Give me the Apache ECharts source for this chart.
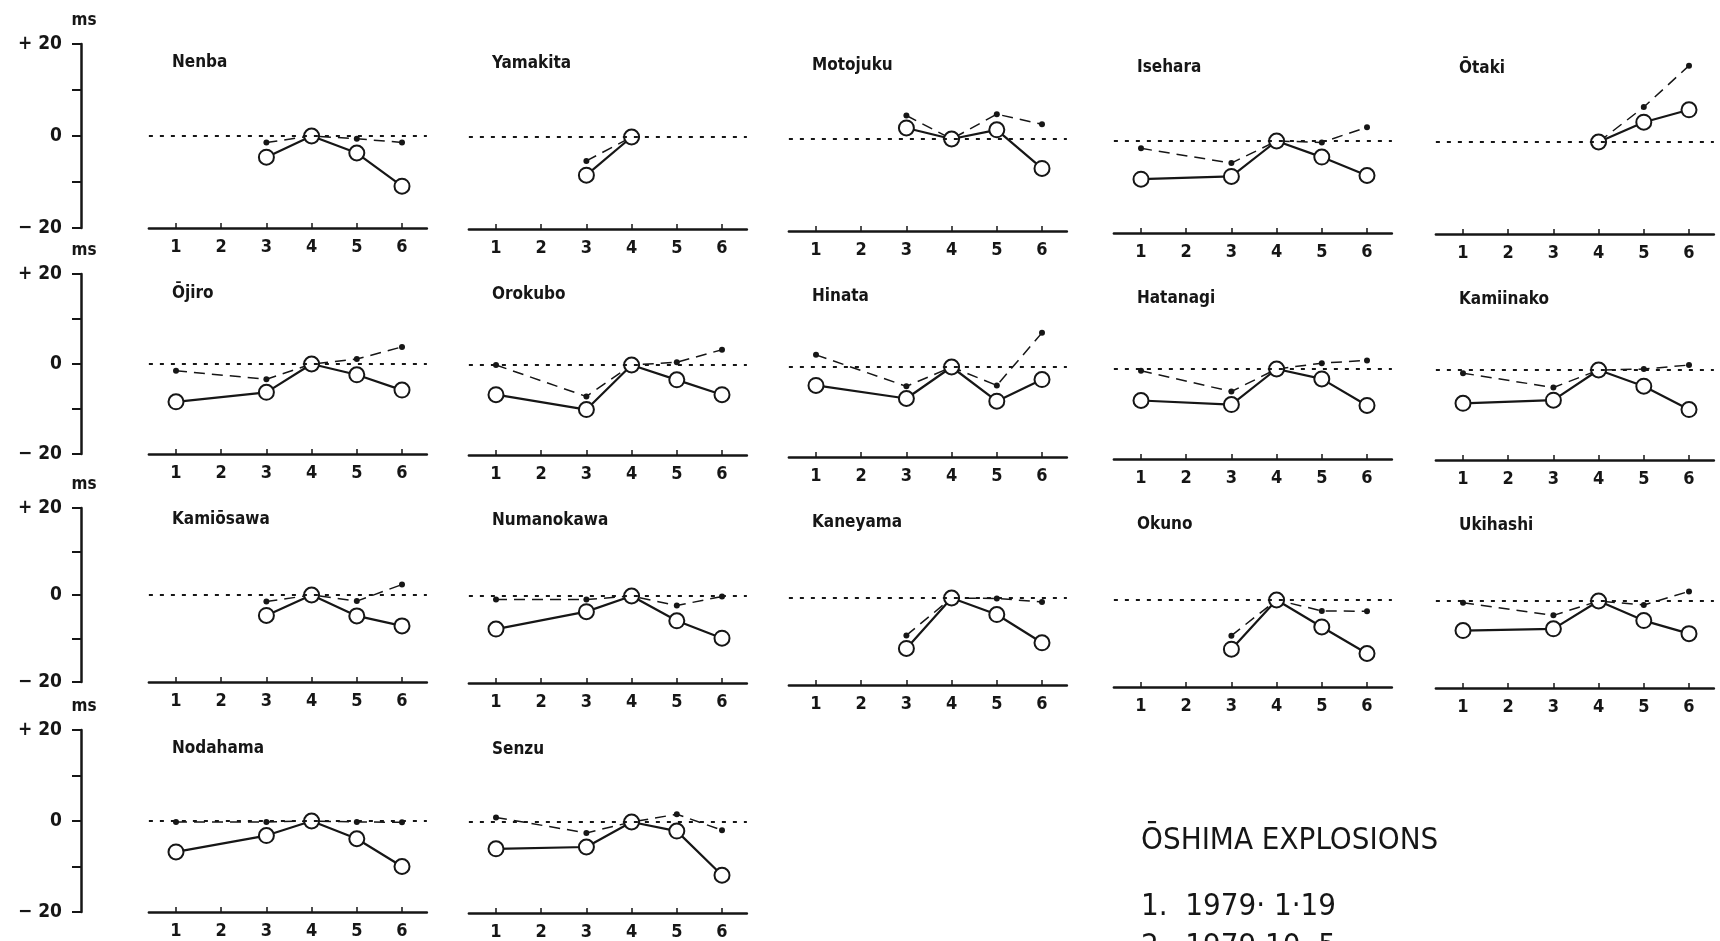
<!DOCTYPE html>
<html>
<head>
<meta charset="utf-8">
<title>Ōshima explosions</title>
<script src="https://cdn.jsdelivr.net/npm/echarts@6/dist/echarts.min.js"></script>
<style>
html, body { margin: 0; padding: 0; background: #fff; }
#chart { width: 1720px; height: 941px; }
</style>
</head>
<body>
<div id="chart"></div>
<script>
// explosion numbers on the x axis, values in ms
var events = [1, 2, 3, 4, 5, 6];

// open circles (solid line) and small dots (dashed line), one entry per explosion
var nenbaCircle = [null, null, -4.6, 0, -3.7, -10.9];
var nenbaDot = [null, null, -1.4, 0, -0.6, -1.4];
var yamakitaCircle = [null, null, -8.3, 0, null, null];
var yamakitaDot = [null, null, -5.2, 0, null, null];
var motojukuCircle = [null, null, 2.4, 0, 2.0, -6.4];
var motojukuDot = [null, null, 5.1, 0, 5.4, 3.2];
var iseharaCircle = [-8.3, null, -7.7, 0, -3.5, -7.5];
var iseharaDot = [-1.6, null, -4.8, 0, -0.3, 3.0];
var otakiCircle = [null, null, null, 0, 4.3, 7.0];
var otakiDot = [null, null, null, 0, 7.6, 16.6];

var ojiroCircle = [-8.4, null, -6.3, 0, -2.4, -5.8];
var ojiroDot = [-1.5, null, -3.4, 0, 1.1, 3.8];
var orokuboCircle = [-6.6, null, -9.9, 0, -3.3, -6.6];
var orokuboDot = [0, null, -7.0, 0, 0.6, 3.4];
var hinataCircle = [-4.1, null, -7.0, 0, -7.6, -2.8];
var hinataDot = [2.7, null, -4.3, 0, -4.1, 7.6];
var hatanagiCircle = [-7.0, null, -7.9, 0, -2.2, -8.1];
var hatanagiDot = [-0.4, null, -5.0, 0, 1.3, 1.9];
var kamiinakoCircle = [-7.4, null, -6.7, 0, -3.6, -8.8];
var kamiinakoDot = [-0.7, null, -3.9, 0, 0.2, 1.1];

var kamiosawaCircle = [null, null, -4.7, 0, -4.8, -7.1];
var kamiosawaDot = [null, null, -1.5, 0, -1.4, 2.4];
var numanokawaCircle = [-7.6, null, -3.6, 0, -5.7, -9.7];
var numanokawaDot = [-0.8, null, -0.8, 0, -2.2, -0.1];
var kaneyamaCircle = [null, null, -11.6, 0, -3.8, -10.3];
var kaneyamaDot = [null, null, -8.6, 0, -0.1, -0.9];
var okunoCircle = [null, null, -11.3, 0, -6.2, -12.3];
var okunoDot = [null, null, -8.2, 0, -2.5, -2.6];
var ukihashiCircle = [-6.8, null, -6.4, 0, -4.5, -7.5];
var ukihashiDot = [-0.4, null, -3.3, 0, -0.9, 2.2];

var nodahamaCircle = [-6.8, null, -3.2, 0, -3.9, -10.0];
var nodahamaDot = [-0.2, null, -0.2, 0, -0.2, -0.3];
var senzuCircle = [-5.9, null, -5.5, 0, -2.0, -11.7];
var senzuDot = [1.0, null, -2.4, 0, 1.7, -1.8];

var stations = [
    ['Nenba', nenbaCircle, nenbaDot],
    ['Yamakita', yamakitaCircle, yamakitaDot],
    ['Motojuku', motojukuCircle, motojukuDot],
    ['Isehara', iseharaCircle, iseharaDot],
    ['Ōtaki', otakiCircle, otakiDot],
    ['Ōjiro', ojiroCircle, ojiroDot],
    ['Orokubo', orokuboCircle, orokuboDot],
    ['Hinata', hinataCircle, hinataDot],
    ['Hatanagi', hatanagiCircle, hatanagiDot],
    ['Kamiinako', kamiinakoCircle, kamiinakoDot],
    ['Kamiōsawa', kamiosawaCircle, kamiosawaDot],
    ['Numanokawa', numanokawaCircle, numanokawaDot],
    ['Kaneyama', kaneyamaCircle, kaneyamaDot],
    ['Okuno', okunoCircle, okunoDot],
    ['Ukihashi', ukihashiCircle, ukihashiDot],
    ['Nodahama', nodahamaCircle, nodahamaDot],
    ['Senzu', senzuCircle, senzuDot]
];

var legendLines = ['ŌSHIMA EXPLOSIONS', '1.  1979· 1·19', '2.  1979·10· 5'];

// layout
var ink = '#161616';
var narrow = "'Liberation Sans Narrow', 'DejaVu Sans Condensed', sans-serif";
var colTick1 = [176, 496, 816, 1141, 1463];
var colShift = [0, 1, 3, 5, 6];
var rowTop = [44, 274, 508, 730];
var rowBottom = [228, 454, 682, 912];
var rowTitleY = [63, 294, 520, 749];
var unit = 45.2, xMin = 0.4, xMax = 6.55;

function pairs(vals) {
    var out = [];
    for (var i = 0; i < vals.length; i++) {
        if (vals[i] !== null) out.push([events[i], vals[i]]);
    }
    return out;
}

var chartDom = document.getElementById('chart');
var myChart = echarts.init(chartDom);
var grids = [], xAxes = [], yAxes = [], series = [], graphics = [];

// one bare grid per row holding the shared ms axis
for (var r = 0; r < 4; r++) {
    grids.push({ left: 81, top: rowTop[r], width: 10, height: rowBottom[r] - rowTop[r] });
    xAxes.push({ gridIndex: r, type: 'value', min: 0, max: 1, show: false });
    yAxes.push({
        gridIndex: r,
        type: 'value',
        min: -20,
        max: 20,
        interval: 10,
        name: 'ms',
        nameLocation: 'end',
        nameGap: 15,
        nameTextStyle: { color: ink, fontSize: 17, fontFamily: narrow, fontWeight: 'bold', align: 'center', padding: [0, 0, 0, 6] },
        axisLine: { show: true, lineStyle: { color: ink, width: 2.5 } },
        axisTick: { show: true, length: 9, lineStyle: { color: ink, width: 2 } },
        splitLine: { show: false },
        axisLabel: {
            margin: 19,
            color: ink,
            fontSize: 19,
            fontFamily: narrow,
            fontWeight: 'bold',
            formatter: function (v) {
                if (v === 20) return '+ 20';
                if (v === -20) return '− 20';
                if (v === 0) return '0';
                return '';
            }
        }
    });
}

stations.forEach(function (st, k) {
    var row = Math.floor(k / 5), col = k % 5;
    var g = grids.length;
    var shift = colShift[col];
    grids.push({
        left: colTick1[col] - (1 - xMin) * unit,
        top: rowTop[row] + shift,
        width: (xMax - xMin) * unit,
        height: rowBottom[row] - rowTop[row]
    });
    xAxes.push({
        gridIndex: g,
        type: 'value',
        min: xMin,
        max: xMax,
        axisLine: { show: true, onZero: false, lineStyle: { color: ink, width: 2.5 } },
        axisTick: { show: true, inside: true, length: 5, customValues: events, lineStyle: { color: ink, width: 1.5 } },
        axisLabel: { customValues: events, margin: 10, color: ink, fontSize: 18, fontFamily: narrow, fontWeight: 'bold' },
        splitLine: { show: false }
    });
    yAxes.push({ gridIndex: g, type: 'value', min: -20, max: 20, show: false });

    series.push({
        type: 'line',
        xAxisIndex: g,
        yAxisIndex: g,
        data: pairs(st[2]),
        z: 2,
        symbol: 'circle',
        symbolSize: 6,
        itemStyle: { color: ink },
        lineStyle: { color: ink, width: 1.5, type: [11, 7] }
    });
    series.push({
        type: 'line',
        xAxisIndex: g,
        yAxisIndex: g,
        data: pairs(st[1]),
        z: 3,
        symbol: 'circle',
        symbolSize: 15,
        itemStyle: { color: '#fff', borderColor: ink, borderWidth: 2 },
        lineStyle: { color: ink, width: 2.2 },
        markLine: {
            silent: true,
            symbol: ['none', 'none'],
            label: { show: false },
            lineStyle: { color: ink, width: 2, type: [4, 7] },
            data: [{ yAxis: 0 }]
        }
    });

    graphics.push({
        type: 'text',
        x: colTick1[col] - 4,
        y: rowTitleY[row] + shift,
        style: {
            text: st[0],
            fill: ink,
            fontSize: 17,
            fontFamily: narrow,
            fontWeight: 'bold',
            verticalAlign: 'middle'
        }
    });
});

var legendY = [841, 907, 947];
legendLines.forEach(function (t, i) {
    graphics.push({
        type: 'text',
        x: 1141,
        y: legendY[i],
        style: {
            text: t,
            fill: ink,
            fontSize: 31,
            fontFamily: narrow,
            verticalAlign: 'middle'
        }
    });
});

var option = {
    backgroundColor: '#fff',
    animation: false,
    grid: grids,
    xAxis: xAxes,
    yAxis: yAxes,
    series: series,
    graphic: graphics
};

option && myChart.setOption(option);
window.addEventListener('resize', function () {
    myChart.resize();
});
</script>
</body>
</html>
